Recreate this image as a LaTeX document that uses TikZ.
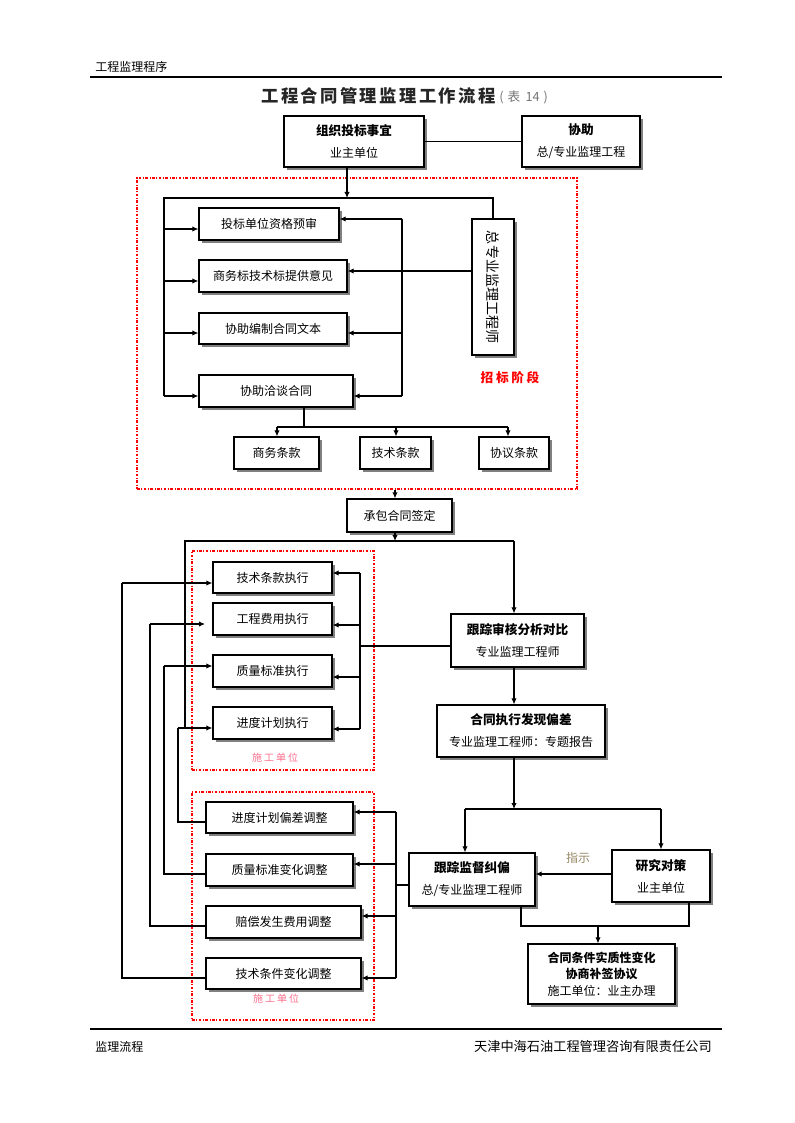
\documentclass[tikz,border=0pt]{standalone}
\usepackage{fontspec}
\setmainfont{Noto Sans CJK SC}
\usetikzlibrary{arrows.meta,shadows,fit}
\definecolor{zhishi}{RGB}{150,135,100}
\definecolor{pinklab}{RGB}{255,110,140}
\begin{document}
\begin{tikzpicture}[x=0.75pt,y=-0.75pt,
  bx/.style={draw,line width=0.9pt,fill=white,inner sep=0pt,
    drop shadow={shadow xshift=2.2pt,shadow yshift=-2.2pt,fill=black!50,opacity=1}},
  tx/.style={inner sep=0pt,align=center,font=\fontsize{9}{16.5}\selectfont},
  ln/.style={line width=0.8pt},
  thk/.style={line width=1.8pt},
  arr/.style={-{Latex[length=4.5pt,width=4pt]}},
  reddash/.style={draw=red,line width=0.8pt,dash pattern=on 2pt off 1.2pt on 0.6pt off 1.2pt,inner sep=0pt},
  hd/.style={font=\fontsize{9}{11}\selectfont,inner sep=0pt}
]
\useasboundingbox (0,0) rectangle (794,1123);

% header and footer
\node[hd,anchor=west] (hdr) at (95,67) {工程监理程序};
\coordinate (hrL) at (90,77); \coordinate (hrR) at (722,77);
\draw[line width=1.5pt] (hrL) -- (hrR);
\coordinate (frL) at (90,1029); \coordinate (frR) at (722,1029);
\draw[line width=1.5pt] (frL) -- (frR);
\node[hd,anchor=west] (ftl) at (95,1047) {监理流程};
\node[hd,anchor=east,font=\fontsize{9.9}{11}\selectfont] (ftr) at (712,1047) {天津中海石油工程管理咨询有限责任公司};

% title
\node[anchor=east,inner sep=0pt,text=black!85,font=\fontsize{13}{15}\selectfont\bfseries] (title) at (496,96)
  {工\hspace{1.8pt}程\hspace{1.8pt}合\hspace{1.8pt}同\hspace{1.8pt}管\hspace{1.8pt}理\hspace{1.8pt}监\hspace{1.8pt}理\hspace{1.8pt}工\hspace{1.8pt}作\hspace{1.8pt}流\hspace{1.8pt}程};
\node[anchor=west,inner sep=0pt,text=black!55,font=\fontsize{9.5}{10}\selectfont] (tno) at (499,97) {(\hspace{3pt}表\hspace{4pt}14\hspace{3pt})};

% red dashed areas
\node[reddash,fit={(137,178)(577,489)}] (red1) {};
\node[reddash,fit={(192,551)(374,770)}] (red2) {};
\node[reddash,fit={(192,792)(374,1020)}] (red3) {};

% top boxes
\node[bx,fit={(284,116)(424,167)}] (org) {};
\node[tx] (orgt) at (org) {{\bfseries\fontsize{9.5}{17}\selectfont 组织投标事宜}\\业主单位};
\node[bx,fit={(522,116)(640,167)}] (xz) {};
\node[tx] (xzt) at (xz) {{\bfseries\fontsize{9.5}{17}\selectfont 协助}\\总/专业监理工程};

% bidding stage
\node[bx,fit={(199,208)(339,240)}] (tb) {};
\node[tx] (tbt) at (tb) {投标单位资格预审};
\node[bx,fit={(199,260)(347,292)}] (sw) {};
\node[tx] (swt) at (sw) {商务标技术标提供意见};
\node[bx,fit={(199,313)(347,344)}] (bz) {};
\node[tx] (bzt) at (bz) {协助编制合同文本};
\node[bx,fit={(199,375)(353,407)}] (qt) {};
\node[tx] (qtt) at (qt) {协助洽谈合同};
\node[bx,fit={(472,219)(514,355)}] (zy) {};
\node[rotate=-90,inner sep=0pt,font=\fontsize{10.5}{12}\selectfont] (zyt) at (zy.center) {总专业监理工程师};
\node[bx,fit={(234,437)(319,469)}] (swtk) {};
\node[tx] (swtkt) at (swtk) {商务条款};
\node[bx,fit={(360,437)(431,469)}] (jstk) {};
\node[tx] (jstkt) at (jstk) {技术条款};
\node[bx,fit={(479,437)(549,469)}] (xytk) {};
\node[tx] (xytkt) at (xytk) {协议条款};
\node[text=red,inner sep=0pt,font=\fontsize{9.5}{11}\selectfont\bfseries] (zb) at (510,378) {招\hspace{2pt}标\hspace{2pt}阶\hspace{2pt}段};

% contract
\node[bx,fit={(347,499)(452,532)}] (cb) {};
\node[tx] (cbt) at (cb) {承包合同签定};

% execution
\node[bx,fit={(213,562)(332,593)}] (z1) {};
\node[tx] (z1t) at (z1) {技术条款执行};
\node[bx,fit={(213,603)(332,635)}] (z2) {};
\node[tx] (z2t) at (z2) {工程费用执行};
\node[bx,fit={(213,655)(332,687)}] (z3) {};
\node[tx] (z3t) at (z3) {质量标准执行};
\node[bx,fit={(213,707)(332,739)}] (z4) {};
\node[tx] (z4t) at (z4) {进度计划执行};
\node[text=pinklab,inner sep=0pt,font=\fontsize{7.5}{9}\selectfont] (sg1) at (275,758) {施\hspace{1.5pt}工\hspace{1.5pt}单\hspace{1.5pt}位};
\node[bx,fit={(451,614)(584,667)}] (gz) {};
\node[tx] (gzt) at (gz) {{\bfseries\fontsize{9.5}{16.5}\selectfont 跟踪审核分析对比}\\专业监理工程师};
\node[bx,fit={(437,705)(605,757)}] (ht) {};
\node[tx] (htt) at (ht) {{\bfseries\fontsize{9.5}{16.5}\selectfont 合同执行发现偏差}\\专业监理工程师：专题报告};

% adjustments
\node[bx,fit={(206,802)(353,833)}] (t1) {};
\node[tx] (t1t) at (t1) {进度计划偏差调整};
\node[bx,fit={(206,854)(353,886)}] (t2) {};
\node[tx] (t2t) at (t2) {质量标准变化调整};
\node[bx,fit={(206,906)(361,938)}] (t3) {};
\node[tx] (t3t) at (t3) {赔偿发生费用调整};
\node[bx,fit={(206,958)(361,989)}] (t4) {};
\node[tx] (t4t) at (t4) {技术条件变化调整};
\node[text=pinklab,inner sep=0pt,font=\fontsize{7.5}{9}\selectfont] (sg2) at (276,999) {施\hspace{1.5pt}工\hspace{1.5pt}单\hspace{1.5pt}位};
\node[bx,fit={(409,853)(535,906)}] (jd) {};
\node[tx] (jdt) at (jd) {{\bfseries\fontsize{9.5}{16.5}\selectfont 跟踪监督纠偏}\\总/专业监理工程师};
\node[bx,fit={(612,850)(710,902)}] (yj) {};
\node[tx] (yjt) at (yj) {{\bfseries\fontsize{9.5}{16.5}\selectfont 研究对策}\\业主单位};
\node[bx,fit={(528,944)(675,1004)}] (hb) {};
\node[tx,font=\fontsize{9}{12.5}\selectfont] (hbt) at (hb) {{\bfseries 合同条件实质性变化}\\{\bfseries 协商补签协议}\\施工单位：业主办理};
\node[text=zhishi,inner sep=0pt,font=\fontsize{9}{11}\selectfont] (zs) at (578,858) {指示};

% ---- connectors: top
\draw[ln] (org) -- (xz);
\coordinate (hTop) at (347,198);
\coordinate (L1t) at (164,198);
\coordinate (L1b) at (164,396);
\draw[ln,arr] (org.south -| hTop) -- (hTop);
\draw[ln] (L1b) -- (L1t) -- (zy.north |- L1t) -- (zy.north);
\draw[ln,arr] (164,229) -- (tb.west |- 0,229);
\draw[ln,arr] (164,281) -- (sw.west |- 0,281);
\draw[ln,arr] (164,333) -- (bz.west |- 0,333);
\draw[thk,arr] (L1b) -- (qt.west |- L1b);
% right bus
\coordinate (R1t) at (402,219);
\coordinate (R1b) at (402,396);
\draw[ln] (R1t) -- (R1b);
\draw[thk,arr] (R1t) -- (tb.east |- R1t);
\draw[thk,arr] (zy.west |- 0,271) -- (sw.east |- 0,271);
\draw[ln,arr] (402,333) -- (bz.east |- 0,333);
\draw[thk,arr] (R1b) -- (qt.east |- R1b);
% clauses
\coordinate (qd) at (304,427);
\draw[ln] (qt.south -| qd) -- (qd);
\draw[ln] (277,427) -- (508,427);
\draw[ln,arr] (277,427) -- (swtk.north -| 277,0);
\draw[ln,arr] (396,427) -- (jstk.north -| 396,0);
\draw[ln,arr] (508,427) -- (xytk.north -| 508,0);
% to contract
\draw[ln,arr] (red1.south -| 395,0) -- (cb.north -| 395,0);
\coordinate (cbd) at (395,541);
\draw[ln,arr] (cb.south -| cbd) -- (cbd);
\draw[ln] (185,728) -- (185,541) -- (514,541);
\draw[ln,arr] (514,541) -- (gz.north -| 514,0);
% bus x=360
\draw[ln] (360,573) -- (360,729);
\draw[ln,arr] (360,573) -- (z1.east |- 0,573);
\draw[ln,arr] (360,625) -- (z2.east |- 0,625);
\draw[ln,arr] (360,677) -- (z3.east |- 0,677);
\draw[ln,arr] (360,729) -- (z4.east |- 0,729);
\draw[ln] (360,646) -- (gz.west |- 0,646);
% feedback loops on left
\draw[ln] (122,583) -- (122,978) -- (t4.west |- 0,978);
\draw[thk,arr] (122,583) -- (z1.west |- 0,583);
\draw[ln] (150,624) -- (150,926) -- (t3.west |- 0,926);
\draw[ln,arr] (150,624) -- (205,624);
\draw[ln] (164,666) -- (164,874) -- (t2.west |- 0,874);
\draw[ln,arr] (164,666) -- (z3.west |- 0,666);
\draw[ln] (178,728) -- (178,822) -- (t1.west |- 0,822);
\draw[ln,arr] (178,728) -- (z4.west |- 0,728);
% right column
\draw[ln,arr] (gz.south -| 514,0) -- (ht.north -| 514,0);
\coordinate (hd) at (514,809);
\draw[ln,arr] (ht.south -| hd) -- (hd);
\draw[ln] (465,809) -- (661,809);
\draw[ln,arr] (465,809) -- (jd.north -| 465,0);
\draw[ln,arr] (661,809) -- (yj.north -| 661,0);
\draw[ln,arr] (yj.west |- 0,874) -- (jd.east |- 0,874);
\draw[ln] (jd.south -| 521,0) -- (521,926) -- (689,926) -- (yj.south -| 689,0);
\draw[ln,arr] (598,926) -- (hb.north -| 598,0);
% bus x=396
\draw[ln] (396,812) -- (396,978);
\draw[thk,arr] (396,812) -- (t1.east |- 0,812);
\draw[thk,arr] (396,864) -- (t2.east |- 0,864);
\draw[thk,arr] (396,916) -- (t3.east |- 0,916);
\draw[ln,arr] (396,978) -- (t4.east |- 0,978);
\draw[ln] (396,885) -- (jd.west |- 0,885);
\end{tikzpicture}
\end{document}
